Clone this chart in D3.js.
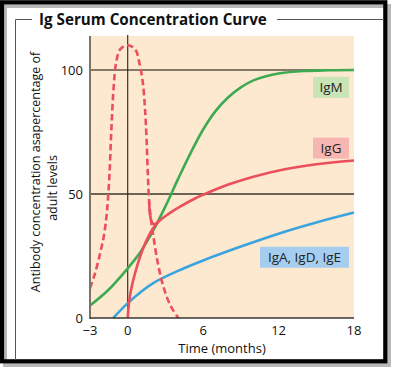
<!DOCTYPE html>
<html>
<head>
<meta charset="utf-8">
<script src="https://cdn.jsdelivr.net/npm/d3@7"></script>
<style>
  body { margin: 0; background: #fff; }
  text { font-family: "Open Sans", "Noto Sans", sans-serif; }
</style>
</head>
<body>
<div id="chart"></div>
<script>
// data: [months, % of adult level]
const igmPoints = [[-3, 5], [-1.5, 11.5], [0, 20], [1, 26.5], [2, 35], [3, 45], [4, 56], [5, 66.5], [6, 76],
  [7, 83.5], [8, 89], [9, 93], [10, 95.8], [11, 97.5], [12, 98.6], [14, 99.6], [16, 99.9], [18, 100]];
const iggPoints = [[0, 0], [0.13, 7.3], [0.32, 12.6], [0.58, 18], [0.98, 24.7], [1.38, 30], [1.91, 35.3],
  [2.4, 38.6], [3.2, 41.8], [4.2, 45], [5.35, 48.2], [6.5, 50.8], [8, 53.8], [10, 57], [12.5, 60], [15, 62], [18, 63.5]];
const maternalIggPoints = [[-3, 12], [-2.6, 18], [-2.2, 26], [-1.9, 33], [-1.65, 43], [-1.45, 58], [-1.3, 76],
  [-1.12, 93], [-0.92, 103], [-0.6, 108.3], [0, 110], [0.6, 108.3], [0.92, 103], [1.2, 95], [1.38, 84],
  [1.5, 72], [1.6, 58], [1.72, 46], [1.88, 38.5], [2.04, 33], [2.4, 22], [2.84, 12.6], [3.4, 5], [4.03, 0]];
const junctionPoints = [[1.7, 47], [1.78, 41.5], [1.92, 38.6], [2.1, 37.8], [2.4, 38.6]];
const igaPoints = [[-1.15, 0], [0, 6], [1, 10.3], [2, 14], [4, 19], [6, 23.2], [9, 28.8], [12, 34], [15, 38.5], [18, 42.5]];

const xTicks = [-3, 0, 6, 12, 18];
const yTicks = [0, 50, 100];
const gridValues = [50, 100];
const labels = [
  { text: "IgM", value: 93, color: "#c9e5b5", x0: 313, x1: 349 },
  { text: "IgG", value: 68.5, color: "#f8b6b2", x0: 313, x1: 349 },
  { text: "IgA, IgD, IgE", value: 24.5, color: "#a5cdef", x0: 260, x1: 349 }
];

const W = 396, H = 372;
const svg = d3.select("#chart").append("svg").attr("width", W).attr("height", H);

// frame with shadow
svg.append("rect").attr("x", 5).attr("y", 6).attr("width", 384).attr("height", 359)
  .attr("fill", "none").attr("stroke", "#9a9a9a").attr("stroke-width", 4).attr("opacity", 0.7);
svg.append("rect").attr("x", 2).attr("y", 2.3).attr("width", 383.3).attr("height", 359)
  .attr("fill", "none").attr("stroke", "#000").attr("stroke-width", 4.2);

svg.append("path").attr("d", "M15.5,360 V19.5 H32 M277,19.5 H384")
  .attr("fill", "none").attr("stroke", "#555").attr("stroke-width", 1);

svg.append("text").attr("x", 39).attr("y", 24.5)
  .attr("font-size", 15.2).attr("font-weight", "bold").attr("fill", "#111")
  .text("Ig Serum Concentration Curve");

const x = d3.scaleLinear().domain([-3, 18]).range([90, 354]);
const y = d3.scaleLinear().domain([0, 100]).range([318, 70]);
const yTop = 113.7;

svg.append("rect").attr("x", x(-3)).attr("y", y(yTop))
  .attr("width", x(18) - x(-3)).attr("height", y(0) - y(yTop))
  .attr("fill", "#fde9cf");

// grid lines
svg.selectAll(".grid").data(gridValues).enter().append("line")
  .attr("x1", x(-3)).attr("x2", x(18))
  .attr("y1", d => y(d)).attr("y2", d => y(d))
  .attr("stroke", d => d === 100 ? "#857867" : "#3a3530")
  .attr("stroke-width", d => d === 100 ? 2 : 1.3);

// zero line (birth)
svg.append("line").attr("x1", x(0)).attr("x2", x(0)).attr("y1", y(yTop) - 1).attr("y2", y(0))
  .attr("stroke", "#222").attr("stroke-width", 1.1);

const line = d3.line().x(d => x(d[0])).y(d => y(d[1])).curve(d3.curveCatmullRom.alpha(0.5));

const plot = svg.append("g");
plot.append("path").datum(igaPoints).attr("d", line)
  .attr("fill", "none").attr("stroke", "#3ba3de").attr("stroke-width", 2.6);
plot.append("path").datum(igmPoints).attr("d", line)
  .attr("fill", "none").attr("stroke", "#3eaa52").attr("stroke-width", 2.6);
plot.append("path").datum(maternalIggPoints).attr("d", line)
  .attr("fill", "none").attr("stroke", "#ec4f5c").attr("stroke-width", 2.6)
  .attr("stroke-dasharray", "6.5,3.5");
plot.append("path").datum(junctionPoints).attr("d", line)
  .attr("fill", "none").attr("stroke", "#ec4f5c").attr("stroke-width", 2.6);
plot.append("path").datum(iggPoints).attr("d", line)
  .attr("fill", "none").attr("stroke", "#ec4f5c").attr("stroke-width", 2.6);

// axes
svg.append("line").attr("x1", x(-3)).attr("x2", x(-3)).attr("y1", y(yTop)).attr("y2", y(0) + 1)
  .attr("stroke", "#7d7468").attr("stroke-width", 2);
svg.append("line").attr("x1", x(-3)).attr("x2", x(18)).attr("y1", y(0)).attr("y2", y(0))
  .attr("stroke", "#3a3530").attr("stroke-width", 1.4);

svg.selectAll(".xt").data(xTicks).enter().append("text")
  .attr("x", d => x(d)).attr("y", 335).attr("text-anchor", "middle")
  .attr("font-size", 13).attr("fill", "#111")
  .text(d => d < 0 ? "\u2212" + Math.abs(d) : d);
svg.selectAll(".yt").data(yTicks).enter().append("text")
  .attr("x", 83).attr("y", d => y(d) + 4.5).attr("text-anchor", "end")
  .attr("font-size", 13).attr("fill", "#111")
  .text(d => d);

svg.append("text").attr("x", 222).attr("y", 353).attr("text-anchor", "middle")
  .attr("font-size", 13).attr("fill", "#111").text("Time (months)");

svg.append("text").attr("transform", "translate(40,172) rotate(-90)").attr("text-anchor", "middle")
  .attr("font-size", 12.5).attr("fill", "#111")
  .text("Antibody concentration asapercentage of");
svg.append("text").attr("transform", "translate(57,188) rotate(-90)").attr("text-anchor", "middle")
  .attr("font-size", 12.5).attr("fill", "#111")
  .text("adult levels");

// series labels
const lab = svg.selectAll(".lab").data(labels).enter().append("g");
lab.append("rect").attr("x", d => d.x0).attr("width", d => d.x1 - d.x0)
  .attr("y", d => y(d.value) - 10.5).attr("height", 21).attr("fill", d => d.color);
lab.append("text").attr("x", d => (d.x0 + d.x1) / 2).attr("y", d => y(d.value) + 5)
  .attr("text-anchor", "middle").attr("font-size", 13.5).attr("fill", "#222")
  .text(d => d.text);
</script>
</body>
</html>
